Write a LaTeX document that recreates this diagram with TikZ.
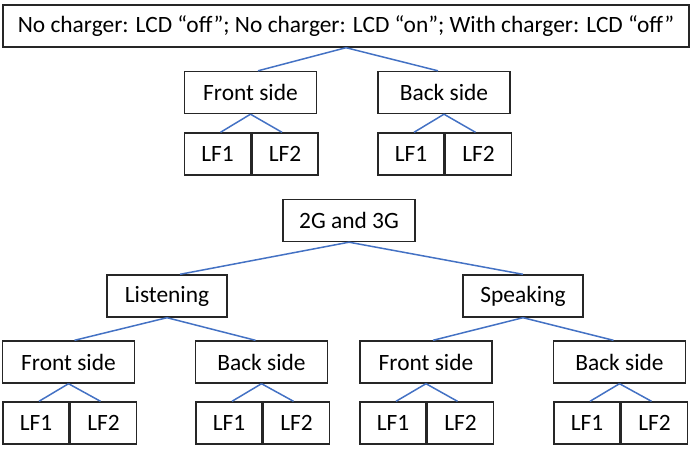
\documentclass[tikz,border=0pt]{standalone}
\usepackage{fontspec}
\setmainfont{Carlito}
\definecolor{linkblue}{RGB}{68,114,196}
\tikzset{
    box/.style={draw=black!85, line width=0.7pt, inner sep=0pt, minimum height=21pt,
        font=\fontsize{11.7}{14}\selectfont},
    sidebox/.style={box, minimum width=66pt},
    lfbox/.style={box, minimum width=33pt},
    link/.style={draw=linkblue, line width=0.75pt},
}
\begin{document}
\begin{tikzpicture}[x=0.5pt,y=-0.5pt]
    \useasboundingbox (0,0) rectangle (692,451);
    % charger tree
    \node[box, minimum width=343pt] (top) at (346,26) {No charger: LCD “off”; No charger: LCD “on”; With charger: LCD “off”};
    \node[sidebox] (fs) at (250.5,92.5) {Front side};
    \node[sidebox] (bs) at (444,92.5) {Back side};
    \node[lfbox] (fsa) at (217.5,154) {LF1};
    \node[lfbox] (fsb) at (285,154) {LF2};
    \node[lfbox] (bsa) at (411,154) {LF1};
    \node[lfbox] (bsb) at (478.5,154) {LF2};
    \draw[link] (top.south) -- ([xshift=3.75pt]fs.north);
    \draw[link] (top.south) -- ([xshift=-3pt]bs.north);
    \draw[link] (fs.south) -- ([xshift=1.5pt]fsa.north);
    \draw[link] (fs.south) -- ([xshift=-1.5pt]fsb.north);
    \draw[link] (bs.south) -- ([xshift=1.5pt]bsa.north);
    \draw[link] (bs.south) -- ([xshift=-1.5pt]bsb.north);
    % 2G and 3G tree
    \node[box, minimum width=66pt] (gg) at (349,220.5) {2G and 3G};
    \node[box, minimum width=60pt] (li) at (167,296) {Listening};
    \node[box, minimum width=60pt] (sp) at (523,296) {Speaking};
    \node[sidebox] (lifs) at (68.5,362) {Front side};
    \node[sidebox] (libs) at (261.5,362) {Back side};
    \node[sidebox] (spfs) at (426,362) {Front side};
    \node[sidebox] (spbs) at (619.5,362) {Back side};
    \node[lfbox] (lifsa) at (36,423) {LF1};
    \node[lfbox] (lifsb) at (103.5,423) {LF2};
    \node[lfbox] (libsa) at (229,423) {LF1};
    \node[lfbox] (libsb) at (296.5,423) {LF2};
    \node[lfbox] (spfsa) at (393,423) {LF1};
    \node[lfbox] (spfsb) at (460.5,423) {LF2};
    \node[lfbox] (spbsa) at (587,423) {LF1};
    \node[lfbox] (spbsb) at (654.5,423) {LF2};
    \draw[link] (gg.south) -- ([xshift=6.5pt]li.north);
    \draw[link] (gg.south) -- (sp.north);
    \draw[link] (li.south) -- ([xshift=3pt]lifs.north);
    \draw[link] (li.south) -- ([xshift=-3pt]libs.north);
    \draw[link] (sp.south) -- ([xshift=3.5pt]spfs.north);
    \draw[link] (sp.south) -- ([xshift=-3pt]spbs.north);
    \draw[link] (lifs.south) -- ([xshift=1.5pt]lifsa.north);
    \draw[link] (lifs.south) -- ([xshift=-1.5pt]lifsb.north);
    \draw[link] (libs.south) -- ([xshift=1.5pt]libsa.north);
    \draw[link] (libs.south) -- ([xshift=-1.5pt]libsb.north);
    \draw[link] (spfs.south) -- ([xshift=1.5pt]spfsa.north);
    \draw[link] (spfs.south) -- ([xshift=-1.5pt]spfsb.north);
    \draw[link] (spbs.south) -- ([xshift=1.5pt]spbsa.north);
    \draw[link] (spbs.south) -- ([xshift=-1.5pt]spbsb.north);
\end{tikzpicture}
\end{document}
